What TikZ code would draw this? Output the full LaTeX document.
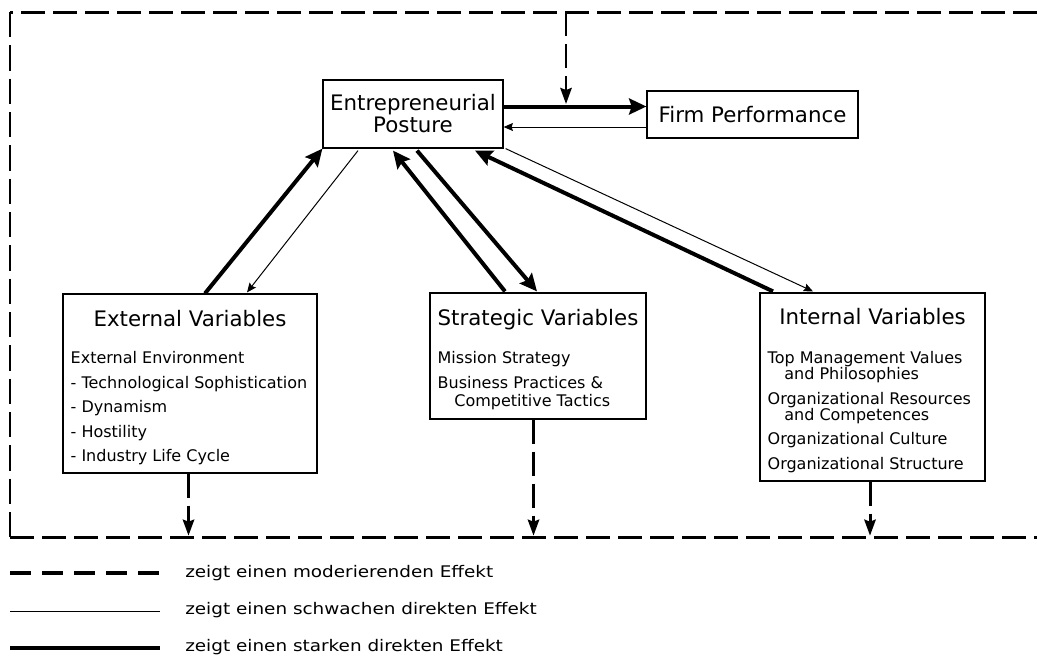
\documentclass[tikz,border=0pt]{standalone}
\usepackage{fontspec}
\setmainfont{DejaVu Sans}
\newfontfamily\legendfont[FakeStretch=1.15]{DejaVu Sans}
\usetikzlibrary{positioning, calc, arrows.meta}
\tikzstyle{Strong} = [
%thick direct effect
line width=3pt, -{Stealth[length=13pt, width=12pt, inset=2pt]}
]
\tikzstyle{Weak} = [
%thin direct effect
line width=0.75pt, -{Stealth[length=7pt, width=6pt, inset=1pt]}
]
\tikzstyle{Moderating} = [
%moderating effect
line width=2.25pt, dash pattern=on 18pt off 6pt, -{Stealth[length=12pt, width=8.5pt, inset=1.5pt]}
]

\begin{document}
\begin{tikzpicture}[x=0.75pt, y=-0.75pt,
				box/.style = {rectangle, draw, line width=0.9pt, inner sep=0pt},
				header/.style = {font=\fontsize{16}{16.5}\selectfont, align=center, inner sep=0pt},
				items/.style = {font=\fontsize{12}{12}\selectfont, align=left, inner sep=0pt, anchor=north west},
				legendtext/.style = {font=\legendfont\fontsize{12}{14}\selectfont, anchor=base west, inner sep=0pt},
				frame/.style = {line width=2.25pt, dash pattern=on 18pt off 6pt},
			]
			\useasboundingbox (0,0) rectangle (1037,657);

			\coordinate(TL) at (10,12);
			\coordinate(BL) at (10,537);
			\coordinate(TR) at (1037,12);
			\coordinate(BR) at (1037,537);
			\draw[frame](TR)--(TL);
			\draw[line width=2pt, dash pattern=on 19pt off 6pt](TL)--(BL);
			\draw[frame](BL)--(BR);

			\node[box, header, minimum width=135pt, minimum height=51pt](EP) at (413,114){Entrepreneurial\\Posture};
			\node[box, header, minimum width=158.25pt, minimum height=35.25pt](FP) at (752.5,114.5){Firm Performance};

			\node[box, minimum width=190.5pt, minimum height=134.25pt](Ext) at (190,383.5){};
			\node[header, anchor=base](ExtT) at ($(Ext.north)+(0,33)$){External Variables};
			\node[items](ExtL) at ($(Ext.north west)+(8,58)$){External Environment\\[6.4pt]- Technological Sophistication\\[6.4pt]- Dynamism\\[6.4pt]- Hostility\\[6.4pt]- Industry Life Cycle};

			\node[box, minimum width=162pt, minimum height=94.5pt](Str) at (538,356){};
			\node[header, anchor=base](StrT) at ($(Str.north)+(0,33)$){Strategic Variables};
			\node[items](StrL) at ($(Str.north west)+(8,59)$){Mission Strategy\\[6.4pt]Business Practices \&\\[1.5pt]\hspace*{12.5pt}Competitive Tactics};

			\node[box, minimum width=168.75pt, minimum height=141pt](Int) at (872.5,387){};
			\node[header, anchor=base](IntT) at ($(Int.north)+(0,32)$){Internal Variables};
			\node[items](IntL) at ($(Int.north west)+(8,59)$){Top Management Values\\\hspace*{12.5pt}and Philosophies\\[6.4pt]Organizational Resources\\\hspace*{12.5pt}and Competences\\[6.4pt]Organizational Culture\\[6.4pt]Organizational Structure};

			\draw[Strong]($(EP.east)+(0,-7.5)$)--($(FP.west)+(0,-8)$);
			\draw[Weak]($(FP.west)+(0,12.5)$)--($(EP.east)+(0,13)$);

			\draw[Strong]($(Ext.north)+(15,0)$)--(EP.south west);
			\draw[Weak]($(EP.south)+(-55,2)$)--($(Ext.north)+(57,-1)$);
			\draw[Strong]($(Str.north)+(-33,-1)$)--($(EP.south)+(-20,2)$);
			\draw[Strong]($(EP.south)+(4,2)$)--($(Str.north)+(-1,-1)$);
			\draw[Strong]($(Int.north)+(-99.5,-1)$)--($(EP.south)+(62,2)$);
			\draw[Weak]($(EP.south east)+(2,0)$)--($(Int.north)+(-59.5,-1)$);

			\coordinate(MT) at (566,12);
			\coordinate(MB) at (566,104);
			\coordinate(ExtD) at ($(Ext.south)+(-1.5,0)$);
			\coordinate(StrD) at ($(Str.south)+(-4.5,0)$);
			\coordinate(IntD) at ($(Int.south)+(-2.5,0)$);
			\draw[Moderating, line width=2pt](MT)--(MB);
			\draw[Moderating, shorten >=1pt](ExtD)--(ExtD |- BL);
			\draw[Moderating, shorten >=1pt](StrD)--(StrD |- BL);
			\draw[Moderating, shorten >=1pt](IntD)--(IntD |- BL);

			\coordinate(LA) at (10,573);
			\coordinate(LB) at (160,573);
			\coordinate(LC) at (10,611);
			\coordinate(LD) at (160,611);
			\coordinate(LE) at (10,648);
			\coordinate(LF) at (160,648);
			\draw[line width=3pt, dash pattern=on 16pt off 8pt](LA)--(LB);
			\draw[line width=0.75pt](LC)--(LD);
			\draw[line width=3.5pt](LE)--(LF);
			\node[legendtext](L1) at (185,577){zeigt einen moderierenden Effekt};
			\node[legendtext](L2) at (185,614.5){zeigt einen schwachen direkten Effekt};
			\node[legendtext](L3) at (185,651.5){zeigt einen starken direkten Effekt};

		\end{tikzpicture}
\end{document}
